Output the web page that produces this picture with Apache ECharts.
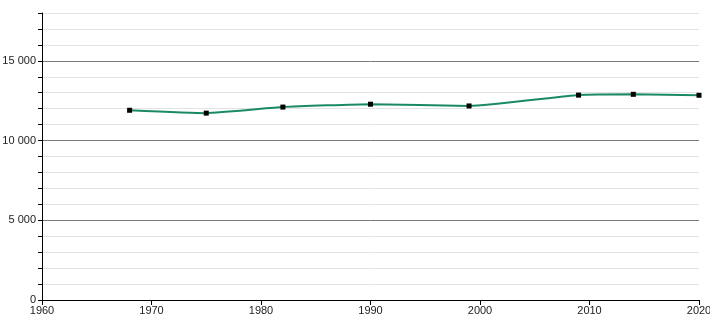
<!DOCTYPE html>
<html>
<head>
<meta charset="utf-8">
<script src="https://cdn.jsdelivr.net/npm/echarts@6/dist/echarts.min.js"></script>
<style>html,body{margin:0;padding:0;background:#fff}#c{width:710px;height:320px}</style>
</head>
<body>
<div id="c"></div>
<script>
const years = [1968, 1975, 1982, 1990, 1999, 2009, 2014, 2020];
const population = [11900, 11720, 12100, 12280, 12170, 12850, 12900, 12840];
const xTicks = [1960, 1970, 1980, 1990, 2000, 2010, 2020];
const yLabelStep = 5000;

function fmt(v){ return String(v).replace(/\B(?=(\d{3})+(?!\d))/g, ' '); }

const chart = echarts.init(document.getElementById('c'), null, {renderer:'canvas'});
chart.setOption({
  animation: false,
  grid: {left: 42, right: 11, top: 13, bottom: 20, containLabel: false, outerBoundsMode: 'none'},
  xAxis: {
    type: 'value', min: xTicks[0], max: xTicks[xTicks.length-1], interval: 10,
    axisLine: {show: true, lineStyle: {color: '#000', width: 1}},
    axisTick: {show: true, length: 5, lineStyle: {color: '#000'}},
    axisLabel: {color: '#222', fontFamily: 'Liberation Sans, Arial, sans-serif', fontSize: 11, margin: 5,
      formatter: v => String(v)},
    splitLine: {show: false}
  },
  yAxis: {
    type: 'value', min: 0, max: 18000, interval: 1000,
    axisLine: {show: true, lineStyle: {color: '#000', width: 1}},
    axisTick: {show: true, length: 4, lineStyle: {color: '#000'}},
    axisLabel: {
      color: '#222', fontFamily: 'Liberation Sans, Arial, sans-serif', fontSize: 11, margin: 6,
      formatter: v => (v % yLabelStep === 0 ? fmt(v) : '')
    },
    splitLine: {show: true, lineStyle: {color: ['#7a7a7a','#e3e3e3','#e3e3e3','#e3e3e3','#e3e3e3'], width: 1}}
  },
  series: [{
    type: 'line',
    data: years.map((y, i) => [y, population[i]]),
    smooth: 0.15,
    lineStyle: {color: '#1a8a64', width: 2},
    itemStyle: {color: '#000'},
    symbol: 'rect', symbolSize: 5, showSymbol: true,
    z: 5
  }]
});
</script>
</body>
</html>
